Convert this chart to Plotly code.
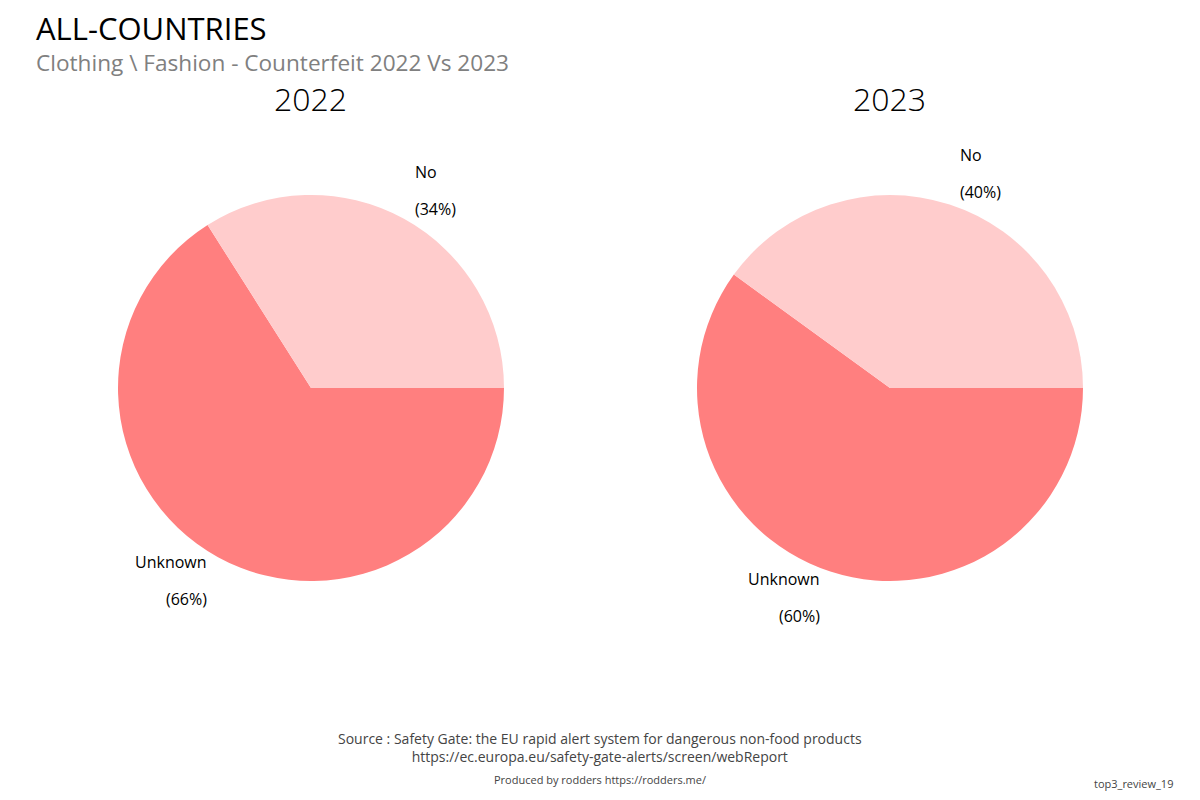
import math
import plotly.graph_objects as go

years = ["2022", "2023"]
labels = ["Unknown", "No"]
values_2022 = [66, 34]
values_2023 = [60, 40]
colors = ["#FF7F7F", "#FFCCCC"]

title = "ALL-COUNTRIES"
subtitle = "Clothing \\ Fashion - Counterfeit 2022 Vs 2023"
source = "Source : Safety Gate: the EU rapid alert system for dangerous non-food products<br>https://ec.europa.eu/safety-gate-alerts/screen/webReport"
produced = "Produced by rodders https://rodders.me/"
tag = "top3_review_19"

W, H = 1200, 800
FONT = "Open Sans"

fig = go.Figure()
domains = [
    dict(x=[110 / W, 496 / W], y=[1 - 573 / H, 1 - 187 / H]),
    dict(x=[689 / W, 1075 / W], y=[1 - 573 / H, 1 - 187 / H]),
]
ann = []
for yr, vals, dom in zip(years, [values_2022, values_2023], domains):
    fig.add_trace(go.Pie(
        labels=labels, values=vals, sort=False,
        direction="clockwise", rotation=90,
        marker=dict(colors=colors, line=dict(width=0)),
        textinfo="none",
        domain=dom, showlegend=False, hoverinfo="label+percent",
    ))
    # outside labels placed from the slice mid-angles
    cx = (dom["x"][0] + dom["x"][1]) / 2
    cy = (dom["y"][0] + dom["y"][1]) / 2
    r_px = (dom["x"][1] - dom["x"][0]) * W / 2
    total = sum(vals)
    cum = 0.0
    for lab, v in zip(labels, vals):
        f = v / total
        mid = -(cum + f / 2) * 2 * math.pi
        cum += f
        c, s = math.cos(mid), math.sin(mid)
        sign = 1 if c >= 0 else -1
        px = cx + (1.018 * r_px * c + sign * 7) / W
        py = cy + (1.155 * r_px * s + 2.5) / H
        side = "left" if sign > 0 else "right"
        pct = f"({round(f * 100):.0f}%)"
        for txt, off in [(lab, 18.5), (pct, -18.5)]:
            ann.append(dict(text=txt, x=px, y=py + off / H, xref="paper", yref="paper",
                            xanchor=side, yanchor="middle", showarrow=False,
                            font=dict(family=FONT, size=16, color="#000000")))

ann.append(dict(text=title, x=26 / W, y=1 - 20 / H, xref="paper", yref="paper",
                xanchor="left", yanchor="middle", showarrow=False,
                font=dict(family=FONT, size=31, color="#000000", weight=500)))
ann.append(dict(text=subtitle, x=26 / W, y=1 - 55 / H, xref="paper", yref="paper",
                xanchor="left", yanchor="middle", showarrow=False,
                font=dict(family=FONT, size=22.6, color="#808080", weight=500)))
for yr, cx in zip(years, [302, 881]):
    ann.append(dict(text=yr, x=cx / W, y=1 - 90 / H, xref="paper", yref="paper",
                    xanchor="center", yanchor="middle", showarrow=False,
                    font=dict(family=FONT, size=32, color="#000000", weight=300)))
ann.append(dict(text=source, x=592 / W, y=1 - 739 / H, xref="paper", yref="paper",
                xanchor="center", yanchor="middle", showarrow=False,
                font=dict(family=FONT, size=14, color="#444444")))
ann.append(dict(text=produced, x=592 / W, y=1 - 771 / H, xref="paper", yref="paper",
                xanchor="center", yanchor="middle", showarrow=False,
                font=dict(family=FONT, size=11, color="#444444")))
ann.append(dict(text=tag, x=1167 / W, y=1 - 775 / H, xref="paper", yref="paper",
                xanchor="right", yanchor="middle", showarrow=False,
                font=dict(family=FONT, size=11, color="#444444")))

fig.update_layout(
    width=W, height=H, margin=dict(l=0, r=0, t=0, b=0),
    paper_bgcolor="#FFFFFF", plot_bgcolor="#FFFFFF",
    annotations=ann, font=dict(family=FONT),
)
fig.write_html("out.html")
